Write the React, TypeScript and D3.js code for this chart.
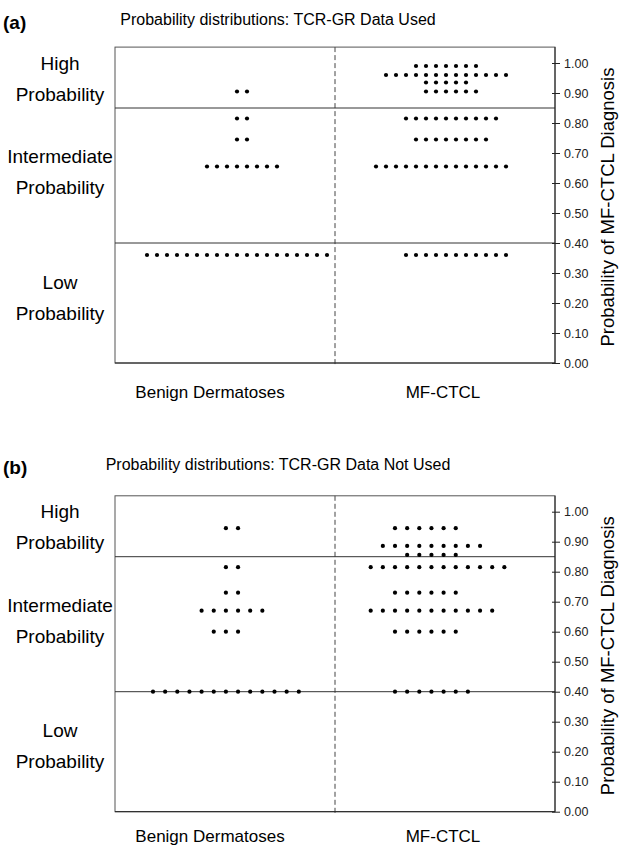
import { useRef, useEffect } from 'react';
import * as d3 from 'd3';

const categories = ['Benign Dermatoses', 'MF-CTCL'];
const probTicks = [0, 0.1, 0.2, 0.3, 0.4, 0.5, 0.6, 0.7, 0.8, 0.9, 1.0];
const cutoffs = [0.85, 0.4];
const titles = ['Probability distributions: TCR-GR Data Used', 'Probability distributions: TCR-GR Data Not Used'];
const tags = ['(a)', '(b)'];
const bandLabels = [
  { p: 0.948, lines: ['High', 'Probability'] },
  { p: 0.637, lines: ['Intermediate', 'Probability'] },
  { p: 0.218, lines: ['Low', 'Probability'] },
];

// rows of the dot plots: probability, first dot slot, number of dots
const usedBenign = [
  { p: 0.905, first: 9, n: 2 },
  { p: 0.815, first: 9, n: 2 },
  { p: 0.745, first: 9, n: 2 },
  { p: 0.655, first: 6, n: 8 },
  { p: 0.36, first: 0, n: 19 },
];
const usedMf = [
  { p: 0.99, first: 4, n: 7 },
  { p: 0.96, first: 1, n: 13 },
  { p: 0.935, first: 5, n: 5 },
  { p: 0.905, first: 5, n: 6 },
  { p: 0.815, first: 3, n: 10 },
  { p: 0.745, first: 4, n: 8 },
  { p: 0.655, first: 0, n: 14 },
  { p: 0.36, first: 3, n: 11 },
];
const notUsedBenign = [
  { p: 0.945, first: 6, n: 2 },
  { p: 0.815, first: 6, n: 2 },
  { p: 0.73, first: 6, n: 2 },
  { p: 0.67, first: 4, n: 6 },
  { p: 0.6, first: 5, n: 3 },
  { p: 0.4, first: 0, n: 13 },
];
const notUsedMf = [
  { p: 0.945, first: 2, n: 6 },
  { p: 0.886, first: 1, n: 9 },
  { p: 0.856, first: 3, n: 5 },
  { p: 0.815, first: 0, n: 12 },
  { p: 0.73, first: 2, n: 6 },
  { p: 0.67, first: 0, n: 11 },
  { p: 0.6, first: 2, n: 6 },
  { p: 0.4, first: 2, n: 7 },
];

export default function App() {
  const svgRef = useRef<SVGSVGElement>(null);

  useEffect(() => {
    const svg = d3.select(svgRef.current);
    svg.selectAll('*').remove();
    svg.attr('font-family', '"Liberation Sans", Arial, Helvetica, sans-serif');

    const panels = [
      { top: 0, step: 10, slotStart: [32, 41], rows: [usedBenign, usedMf], titleY: 25, catY: 398 },
      { top: 448.7, step: 12.15, slotStart: [38, 35.7], rows: [notUsedBenign, notUsedMf], titleY: 21.5, catY: 393.5 },
    ];

    const x = d3.scaleBand().domain(categories).range([115, 555]);
    const y = d3.scaleLinear().domain([0, 1]).range([363, 63]);
    const yTop = y(1.053);

    panels.forEach((panel, pi) => {
      const g = svg.append('g').attr('transform', `translate(0, ${panel.top})`);

      g.append('text')
        .attr('x', 3)
        .attr('y', panel.titleY + 4)
        .attr('font-size', 19)
        .attr('font-weight', 'bold')
        .text(tags[pi]);
      g.append('text')
        .attr('x', 278)
        .attr('y', panel.titleY)
        .attr('text-anchor', 'middle')
        .attr('font-size', 16)
        .text(titles[pi]);

      // frame
      g.append('rect')
        .attr('x', 115)
        .attr('y', yTop)
        .attr('width', 440)
        .attr('height', y(0) - yTop)
        .attr('fill', 'none')
        .attr('stroke', '#555')
        .attr('stroke-width', 1);

      g.append('line')
        .attr('x1', x('MF-CTCL'))
        .attr('x2', x('MF-CTCL'))
        .attr('y1', yTop)
        .attr('y2', y(0) + 3)
        .attr('stroke', '#444')
        .attr('stroke-dasharray', '5,3');

      g.selectAll('.cut')
        .data(cutoffs)
        .join('line')
        .attr('class', 'cut')
        .attr('x1', 115)
        .attr('x2', 555)
        .attr('y1', (d) => y(d))
        .attr('y2', (d) => y(d))
        .attr('stroke', '#333')
        .attr('stroke-width', 1);

      const axis = d3
        .axisRight(y)
        .tickValues(probTicks)
        .tickFormat(d3.format('.2f'))
        .tickSize(5)
        .tickSizeOuter(0)
        .tickPadding(4);
      const axisG = g.append('g').attr('transform', 'translate(555, 0)').call(axis);
      axisG.select('.domain').remove();
      axisG.selectAll('.tick line').attr('x1', -3).attr('stroke', '#222');
      axisG.selectAll('.tick text').attr('font-size', 12.5).attr('fill', '#222');
      axisG.attr('font-family', null);
      g.append('line')
        .attr('x1', 555)
        .attr('x2', 555)
        .attr('y1', yTop)
        .attr('y2', y(0))
        .attr('stroke', '#222');
      g.append('line')
        .attr('x1', 115)
        .attr('x2', 555)
        .attr('y1', y(0))
        .attr('y2', y(0))
        .attr('stroke', '#222');

      g.append('text')
        .attr('transform', `translate(607, ${y(0.52)}) rotate(-90)`)
        .attr('text-anchor', 'middle')
        .attr('dominant-baseline', 'central')
        .attr('font-size', 18.5)
        .text('Probability of MF-CTCL Diagnosis');

      bandLabels.forEach((b) => {
        g.append('text')
          .attr('x', 60)
          .attr('y', y(b.p))
          .attr('text-anchor', 'middle')
          .attr('font-size', 19)
          .selectAll('tspan')
          .data(b.lines)
          .join('tspan')
          .attr('x', 60)
          .attr('dy', (_d, i) => (i === 0 ? -9 : 31))
          .text((d) => d);
      });

      g.selectAll('.cat')
        .data(categories)
        .join('text')
        .attr('class', 'cat')
        .attr('x', (d, i) => (x(d) as number) + (i === 0 ? 95 : 108))
        .attr('y', panel.catY)
        .attr('text-anchor', 'middle')
        .attr('font-size', 17)
        .text((d) => d);

      categories.forEach((c, ci) => {
        const slot = d3
          .scaleLinear()
          .domain([0, 1])
          .range([(x(c) as number) + panel.slotStart[ci], (x(c) as number) + panel.slotStart[ci] + panel.step]);
        const dots = panel.rows[ci].flatMap((r) => d3.range(r.n).map((k) => ({ p: r.p, s: r.first + k })));
        g.append('g')
          .selectAll('circle')
          .data(dots)
          .join('circle')
          .attr('cx', (d) => slot(d.s))
          .attr('cy', (d) => y(d.p))
          .attr('r', 2.1)
          .attr('fill', '#000');
      });
    });
  }, []);

  return (
    <div>
      <svg ref={svgRef} width={626} height={845} style={{ position: 'absolute', left: 0, top: 0 }} />
    </div>
  );
}
